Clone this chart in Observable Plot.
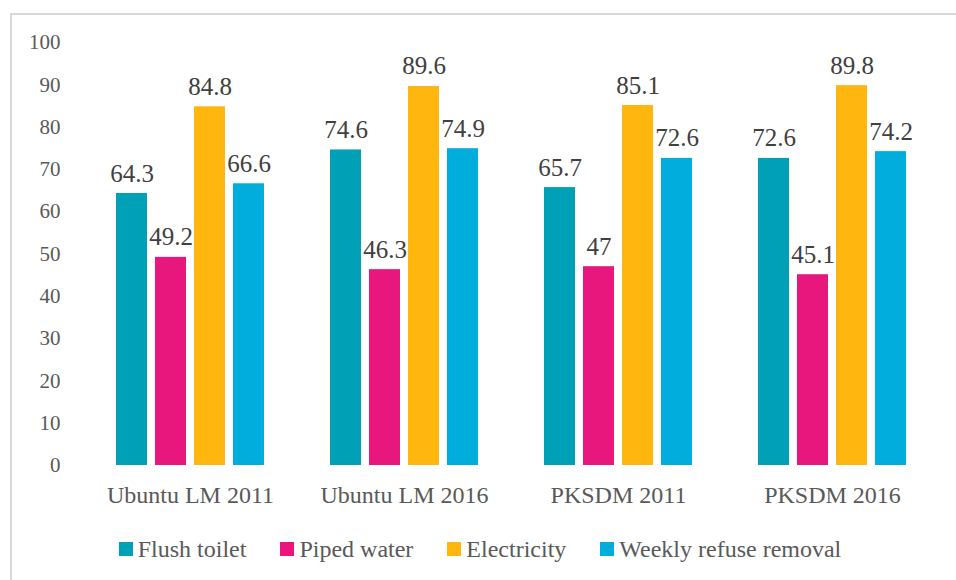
<!DOCTYPE html>
<html>
<head>
<meta charset="utf-8">
<script src="https://cdn.jsdelivr.net/npm/d3@7"></script>
<script src="https://cdn.jsdelivr.net/npm/@observablehq/plot@0.6"></script>
<style>
  html, body { margin: 0; padding: 0; background: #fff; }
  body { width: 956px; height: 580px; position: relative; overflow: hidden; font-family: "Liberation Serif", "DejaVu Serif", "Times New Roman", Times, serif; }
  #chart svg, #chart svg text { font-family: "Liberation Serif", "DejaVu Serif", "Times New Roman", Times, serif !important; }
  #frame { position: absolute; left: 10px; top: 13px; width: 980px; height: 600px; border-left: 2px solid #d9d9d9; border-top: 2px solid #d9d9d9; box-sizing: border-box; }
  #chart { position: absolute; left: 0; top: 0; }
  #legend { position: absolute; left: 0; top: 535px; width: 956px; display: flex; justify-content: center; padding-left: 4px; box-sizing: border-box; font-size: 24px; line-height: 28px; color: #595959; font-family: "Liberation Serif", "DejaVu Serif", serif; }
  .item { display: flex; align-items: center; margin: 0 17px; }
  .sw { width: 14px; height: 14px; margin-right: 5px; }
</style>
</head>
<body>
<div id="frame"></div>
<div id="chart"></div>
<div id="legend"></div>
<script>
const groups = ["Ubuntu LM 2011", "Ubuntu LM 2016", "PKSDM 2011", "PKSDM 2016"];
const series = ["Flush toilet", "Piped water", "Electricity", "Weekly refuse removal"];
const colors = ["#00A0B7", "#E8177E", "#FFB60F", "#00ADDC"];
const flushToilet = [64.3, 74.6, 65.7, 72.6];
const pipedWater = [49.2, 46.3, 47, 45.1];
const electricity = [84.8, 89.6, 85.1, 89.8];
const weeklyRefuse = [66.6, 74.9, 72.6, 74.2];
const yTicks = [0, 10, 20, 30, 40, 50, 60, 70, 80, 90, 100];

const valuesBySeries = [flushToilet, pipedWater, electricity, weeklyRefuse];
const data = [];
groups.forEach((g, gi) => {
  series.forEach((s, si) => {
    data.push({group: g, series: s, value: valuesBySeries[si][gi]});
  });
});

const chart = Plot.plot({
  width: 956,
  height: 515,
  marginLeft: 83,
  marginRight: 16,
  marginTop: 42,
  marginBottom: 50,
  style: {background: "transparent", overflow: "visible"},
  fx: {domain: groups, paddingInner: 0.27, paddingOuter: 0.135, label: null, axis: null},
  x: {domain: series, paddingInner: 0.2, paddingOuter: 0.1, axis: null},
  y: {domain: [0, 100], ticks: yTicks, label: null, axis: null},
  color: {domain: series, range: colors},
  marks: [
    Plot.gridY(yTicks, {stroke: "#d9d9d9", strokeOpacity: 1, strokeWidth: 1.5, x1: 83, x2: 940}),
    Plot.axisY({ticks: yTicks, tickSize: 0, tickPadding: 52, fontSize: 21, fill: "#595959", label: null}),
    Plot.barY(data, {fx: "group", x: "series", y: "value", fill: "series"}),
    Plot.text(data, {fx: "group", x: "series", y: "value", text: d => String(d.value), lineAnchor: "bottom", dy: -12, fontSize: 25, fill: "#404040"}),
    Plot.axisFx({anchor: "bottom", tickSize: 0, tickPadding: 20, fontSize: 24, fill: "#595959", label: null})
  ]
});
document.getElementById("chart").appendChild(chart);

const legend = document.getElementById("legend");
series.forEach((s, i) => {
  const it = document.createElement("div");
  it.className = "item";
  const sw = document.createElement("span");
  sw.className = "sw";
  sw.style.background = colors[i];
  const t = document.createElement("span");
  t.textContent = s;
  it.appendChild(sw);
  it.appendChild(t);
  legend.appendChild(it);
});
</script>
</body>
</html>
